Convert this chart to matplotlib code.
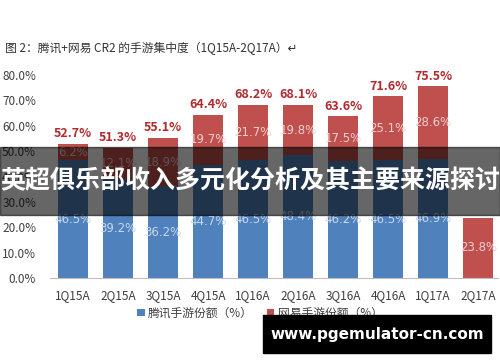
import numpy as np
import matplotlib
matplotlib.use('Agg')
import matplotlib.pyplot as plt
from matplotlib.patches import Rectangle

plt.rcParams['font.family'] = ['Noto Sans CJK SC', 'DejaVu Sans']

quarters = ['1Q15A', '2Q15A', '3Q15A', '4Q15A', '1Q16A', '2Q16A', '3Q16A', '4Q16A', '1Q17A', '2Q17A']
tencent = [46.5, 39.2, 36.2, 44.7, 46.5, 48.4, 46.2, 46.5, 46.9, 0]
netease = [6.2, 12.1, 18.9, 19.7, 21.7, 19.8, 17.5, 25.1, 28.6, 23.8]
totals = [52.7, 51.3, 55.1, 64.4, 68.2, 68.1, 63.6, 71.6, 75.5, None]

blue = '#4F81BD'
red = '#C0504D'

fig = plt.figure(figsize=(5, 3.62), dpi=100)
ax = fig.add_axes([50/500, 84/362, 448/500, 203/362])

x = np.arange(len(quarters))
w = 0.667
ax.bar(x, tencent, w, color=blue, label='腾讯手游份额（%）')
ax.bar(x, netease, w, bottom=tencent, color=red, label='网易手游份额（%）')

for i in range(len(quarters)):
	if tencent[i] > 0:
		ax.text(x[i], tencent[i]/2, '%.1f%%' % tencent[i], ha='center', va='center',
			fontsize=8.5, color='#C9D8EC', family='DejaVu Sans')
	ax.text(x[i], tencent[i] + netease[i]/2, '%.1f%%' % netease[i], ha='center', va='center',
		fontsize=8.5, color='#F2CFCF', family='DejaVu Sans')
	if totals[i] is not None:
		ax.text(x[i], tencent[i] + netease[i] + 1.5, '%.1f%%' % totals[i], ha='center', va='bottom',
			fontsize=9, color='#B22A2E', fontweight='bold')

ax.set_xlim(-0.51, 9.44)
ax.set_ylim(0, 80)
ax.set_yticks(np.arange(0, 81, 10))
ax.set_yticklabels(['%.1f%%' % v for v in np.arange(0, 81, 10)])
ax.set_xticks(x)
ax.set_xticklabels(quarters)
ax.tick_params(length=0, labelsize=8.5, colors='#404040')
ax.tick_params(axis='y', pad=10)
ax.tick_params(axis='x', pad=8)
for s in ['top', 'right', 'left']:
	ax.spines[s].set_visible(False)
ax.spines['bottom'].set_color('#BFBFBF')

ax.legend(loc='center', bbox_to_anchor=(260/500, 49/362), bbox_transform=fig.transFigure,
	ncol=2, frameon=False, fontsize=8.5, handlelength=0.6, handleheight=0.6,
	handletextpad=0.3, columnspacing=1.2, labelcolor='#404040')

fig.text(5/500, 1 - 48/362, '图 2：腾讯+网易 CR2 的手游集中度（1Q15A-2Q17A）↵', fontsize=8.5,
	color='#333333', va='center', ha='left')

# dark banner with overlay title
fig.patches.append(Rectangle((0, 1 - 215/362), 1, 68/362, transform=fig.transFigure,
	color='black', alpha=0.6, zorder=10))
fig.text(0.5, 1 - 181/362, '英超俱乐部收入多元化分析及其主要来源探讨', fontsize=18, fontweight='bold',
	color='white', ha='center', va='center', zorder=11)

# watermark box
fig.patches.append(Rectangle((263/500, 1 - 353/362), 228/500, 38/362, transform=fig.transFigure,
	color='black', zorder=10))
fig.text(377/500, 1 - 334/362, 'www.pgemulator-cn.com', fontsize=11, fontweight='bold',
	color='white', ha='center', va='center', zorder=11, family='DejaVu Sans')

fig.savefig('out.png', dpi=100)
